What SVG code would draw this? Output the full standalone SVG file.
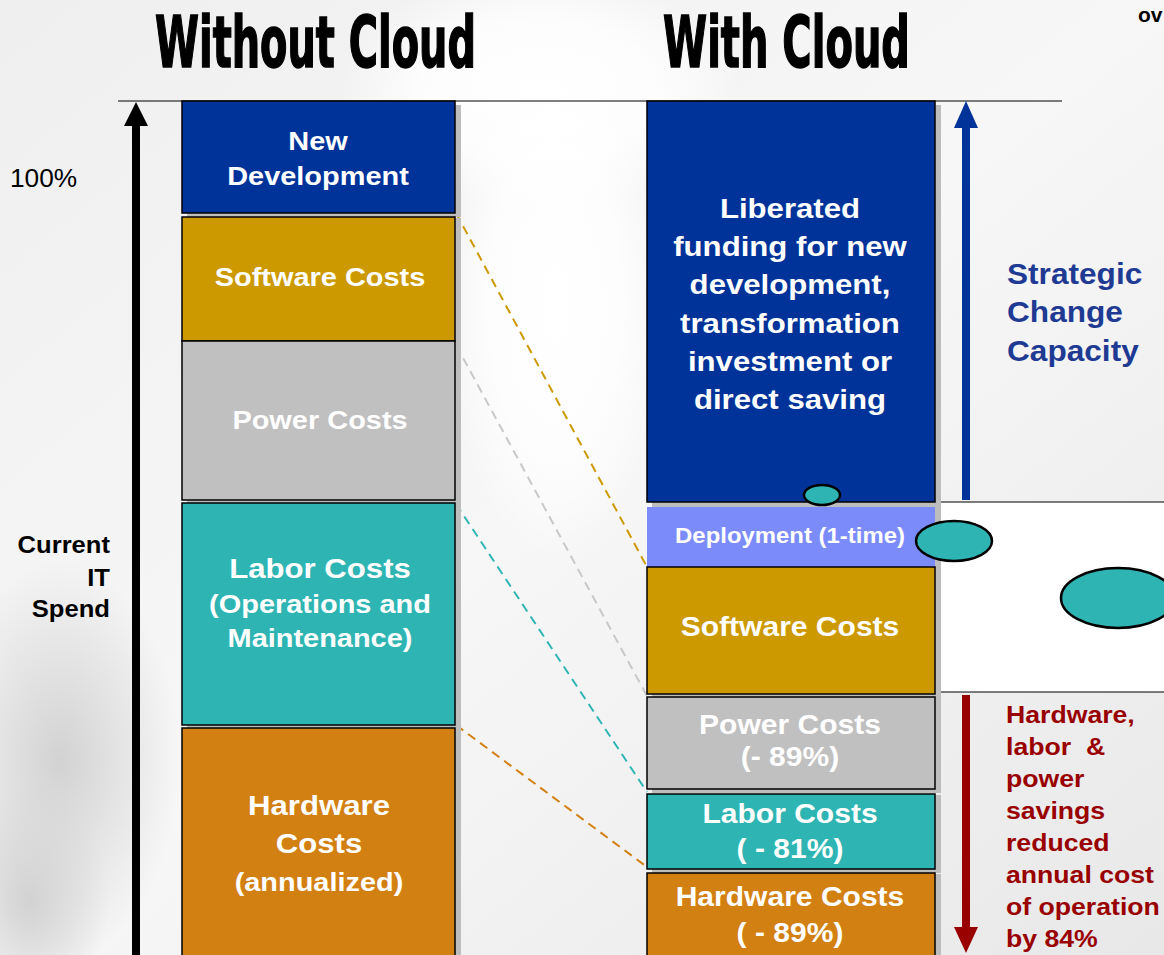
<svg xmlns="http://www.w3.org/2000/svg" width="1164" height="955" viewBox="0 0 1164 955">
<defs>
<linearGradient id="bg" x1="0" y1="0" x2="1" y2="1">
<stop offset="0" stop-color="#efefef"/>
<stop offset="0.5" stop-color="#f7f7f7"/>
<stop offset="1" stop-color="#e8e8e8"/>
</linearGradient>
<radialGradient id="cl1" cx="0.5" cy="0.5" r="0.5">
<stop offset="0" stop-color="#d2d2d2"/>
<stop offset="1" stop-color="#d2d2d2" stop-opacity="0"/>
</radialGradient>
<radialGradient id="cw" cx="0.5" cy="0.5" r="0.5">
<stop offset="0" stop-color="#ffffff"/>
<stop offset="0.6" stop-color="#ffffff" stop-opacity="0.8"/>
<stop offset="1" stop-color="#ffffff" stop-opacity="0"/>
</radialGradient>
</defs>
<style>
.bar{stroke:#000;stroke-width:1.5}
.sh{fill:#bdbdbd}
.wt{font-family:"Liberation Sans",Arial,sans-serif;font-weight:bold;fill:#fff;text-anchor:middle}
.title{font-family:"Liberation Sans Narrow","DejaVu Sans Condensed","Liberation Sans",sans-serif;font-weight:bold;font-size:72px;fill:#000;stroke:#000;stroke-width:1.6}
.dash{fill:none;stroke-width:2;stroke-dasharray:9,6}
.ell{fill:#2EB5B3;stroke:#000;stroke-width:2.5}
.lbl{font-family:"Liberation Sans",Arial,sans-serif;font-weight:bold}
</style>
<rect x="0" y="0" width="1164" height="955" fill="url(#bg)"/>
<ellipse cx="60" cy="760" rx="120" ry="200" fill="url(#cl1)"/>
<ellipse cx="30" cy="900" rx="80" ry="120" fill="url(#cl1)"/>
<ellipse cx="540" cy="90" rx="200" ry="120" fill="url(#cw)"/>
<ellipse cx="555" cy="300" rx="110" ry="260" fill="url(#cw)"/>
<rect x="940" y="502" width="224" height="190" fill="#ffffff"/>

<g id="titles">
<text class="title" x="155" y="67" textLength="321" lengthAdjust="spacingAndGlyphs">Without Cloud</text>
<text class="title" x="663" y="67" textLength="247" lengthAdjust="spacingAndGlyphs">With Cloud</text>
<text x="1138" y="22" font-family="Liberation Sans,Arial,sans-serif" font-weight="bold" font-size="21" fill="#000">ov</text>
</g>

<g id="axis">
<line x1="118" y1="101" x2="1062" y2="101" stroke="#000" stroke-width="1.2"/>
<line x1="936" y1="502" x2="1164" y2="502" stroke="#000" stroke-width="1.2"/>
<line x1="936" y1="692" x2="1164" y2="692" stroke="#000" stroke-width="1.2"/>
<rect x="132" y="124" width="8" height="831" fill="#000"/>
<path d="M124,126 L136,102 L148,126 Z" fill="#000"/>
<text transform="translate(10,187) scale(1.05,1)" x="0" y="0" font-family="Liberation Sans,Arial,sans-serif" font-size="25" fill="#000">100%</text>
<g class="lbl" font-size="23" fill="#000" text-anchor="end" transform="translate(110,0) scale(1.113,1)">
<text x="0" y="553">Current</text>
<text x="0" y="586">IT</text>
<text x="0" y="617">Spend</text>
</g>
</g>

<g id="connectors">
<line class="dash" x1="456" y1="213" x2="647" y2="567" stroke="#CC9900"/>
<line class="dash" x1="456" y1="345" x2="647" y2="696" stroke="#C8C8C8"/>
<line class="dash" x1="456" y1="504" x2="647" y2="792" stroke="#2EB5B3"/>
<line class="dash" x1="456" y1="725" x2="647" y2="867" stroke="#D38012"/>
</g>

<g id="left-new-development">
<rect class="sh" x="187" y="105" width="274" height="112"/>
<rect class="bar" x="182" y="101" width="273" height="112" fill="#003399"/>
<g class="wt" font-size="26" transform="translate(318,0) scale(1.113,1)">
<text x="0" y="150">New</text>
<text x="0" y="185">Development</text>
</g>
</g>
<g id="left-software-costs">
<rect class="sh" x="187" y="218" width="274" height="127"/>
<rect class="bar" x="182" y="217" width="273" height="124" fill="#CC9900"/>
<text class="wt" font-size="26" transform="translate(320,286) scale(1.113,1)" x="0" y="0">Software Costs</text>
</g>
<g id="left-power-costs">
<rect class="sh" x="187" y="342" width="274" height="162"/>
<rect class="bar" x="182" y="341" width="273" height="159" fill="#C0C0C0"/>
<text class="wt" font-size="26" transform="translate(320,429) scale(1.113,1)" x="0" y="0">Power Costs</text>
</g>
<g id="left-labor-costs">
<rect class="sh" x="187" y="504" width="274" height="225"/>
<rect class="bar" x="182" y="503" width="273" height="222" fill="#2EB5B3"/>
<g class="wt" transform="translate(320,0) scale(1.113,1)">
<text x="0" y="578" font-size="28">Labor Costs</text>
<text x="0" y="613" font-size="26">(Operations and</text>
<text x="0" y="647" font-size="26">Maintenance)</text>
</g>
</g>
<g id="left-hardware-costs">
<rect class="sh" x="187" y="729" width="274" height="230"/>
<rect class="bar" x="182" y="728" width="273" height="230" fill="#D38012"/>
<g class="wt" transform="translate(319,0) scale(1.113,1)">
<text x="0" y="815" font-size="28">Hardware</text>
<text x="0" y="853" font-size="28">Costs</text>
<text x="0" y="891" font-size="26">(annualized)</text>
</g>
</g>

<g id="right-liberated">
<rect class="sh" x="652" y="105" width="289" height="403"/>
<rect class="bar" x="647" y="101" width="288" height="401" fill="#003399"/>
<g class="wt" font-size="28" transform="translate(790,0) scale(1.113,1)">
<text x="0" y="218">Liberated</text>
<text x="0" y="256">funding for new</text>
<text x="0" y="294">development,</text>
<text x="0" y="333">transformation</text>
<text x="0" y="371">investment or</text>
<text x="0" y="409">direct saving</text>
</g>
</g>
<g id="right-deployment">
<rect class="sh" x="652" y="508" width="289" height="62"/>
<rect x="647" y="507" width="288" height="60" fill="#7B8BFA"/>
<text class="wt" font-size="21.5" transform="translate(790,543) scale(1.113,1)" x="0" y="0">Deployment (1-time)</text>
</g>
<g id="right-software-costs">
<rect class="sh" x="652" y="568" width="289" height="130"/>
<rect class="bar" x="647" y="567" width="288" height="127" fill="#CC9900"/>
<text class="wt" font-size="27" transform="translate(790,636) scale(1.113,1)" x="0" y="0">Software Costs</text>
</g>
<g id="right-power-costs">
<rect class="sh" x="652" y="698" width="289" height="95"/>
<rect class="bar" x="647" y="697" width="288" height="92" fill="#C0C0C0"/>
<g class="wt" font-size="27" transform="translate(790,0) scale(1.113,1)">
<text x="0" y="734">Power Costs</text>
<text x="0" y="766">(- 89%)</text>
</g>
</g>
<g id="right-labor-costs">
<rect class="sh" x="652" y="795" width="289" height="78"/>
<rect class="bar" x="647" y="794" width="288" height="75" fill="#2EB5B3"/>
<g class="wt" font-size="27" transform="translate(790,0) scale(1.113,1)">
<text x="0" y="823">Labor Costs</text>
<text x="0" y="858">( - 81%)</text>
</g>
</g>
<g id="right-hardware-costs">
<rect class="sh" x="652" y="874" width="289" height="85"/>
<rect class="bar" x="647" y="873" width="288" height="85" fill="#D38012"/>
<g class="wt" font-size="27" transform="translate(790,0) scale(1.113,1)">
<text x="0" y="906">Hardware Costs</text>
<text x="0" y="942">( - 89%)</text>
</g>
</g>

<g id="ellipses">
<ellipse class="ell" cx="822" cy="495" rx="18" ry="10"/>
<ellipse class="ell" cx="954" cy="541" rx="38" ry="20"/>
<ellipse class="ell" cx="1118" cy="598" rx="57" ry="30"/>
</g>

<g id="strategic">
<rect x="962" y="124" width="8" height="376" fill="#003399"/>
<path d="M954,128 L966,101 L978,128 Z" fill="#003399"/>
<g class="lbl" font-size="29" fill="#1F3A93" transform="translate(1007,0) scale(1.09,1)">
<text x="0" y="284">Strategic</text>
<text x="0" y="322">Change</text>
<text x="0" y="361">Capacity</text>
</g>
</g>

<g id="savings">
<rect x="962" y="695" width="8" height="235" fill="#990000"/>
<path d="M954,927 L966,953 L978,927 Z" fill="#990000"/>
<g class="lbl" font-size="24" fill="#990000" transform="translate(1006,0) scale(1.11,1)">
<text x="0" y="723">Hardware,</text>
<text x="0" y="755" xml:space="preserve">labor  &amp;</text>
<text x="0" y="787">power</text>
<text x="0" y="819">savings</text>
<text x="0" y="851">reduced</text>
<text x="0" y="883">annual cost</text>
<text x="0" y="915">of operation</text>
<text x="0" y="947">by 84%</text>
</g>
</g>
</svg>
